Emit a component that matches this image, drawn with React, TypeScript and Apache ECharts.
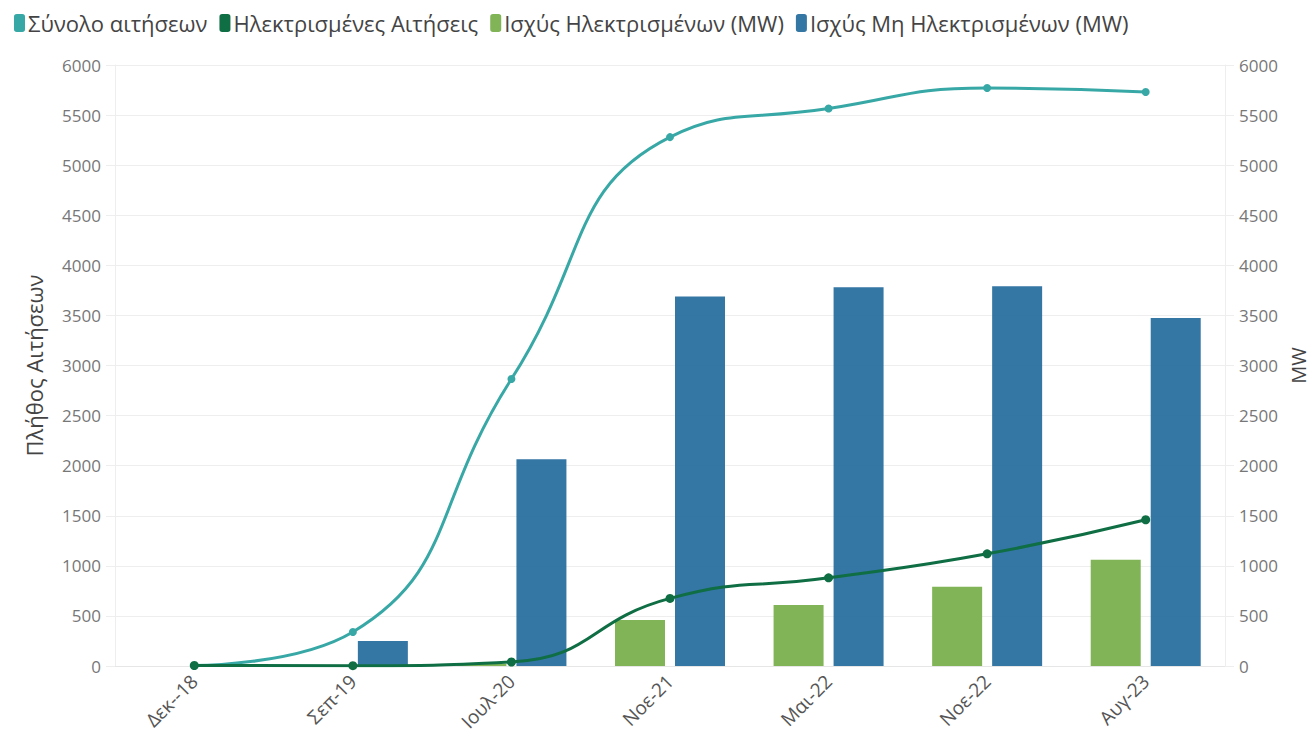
import React, { useEffect, useRef } from "react";
import * as echarts from "echarts";

const categories = ["Δεκ--18", "Σεπ-19", "Ιουλ-20", "Νοε-21", "Μαι-22", "Νοε-22", "Αυγ-23"];
const totalApplications = [5, 340, 2865, 5280, 5565, 5770, 5730];
const electrifiedApplications = [5, 3, 40, 675, 880, 1120, 1460];
const electrifiedMW = [0, 0, 20, 460, 610, 790, 1060];
const nonElectrifiedMW = [0, 250, 2065, 3690, 3780, 3790, 3475];
const yTicks = { min: 0, max: 6000, interval: 500 };

const FONT = "'Open Sans', 'Noto Sans', sans-serif";

export default function App() {
  const ref = useRef<HTMLDivElement>(null);
  useEffect(() => {
    if (!ref.current) return;
    const chart = echarts.init(ref.current, undefined, { renderer: "svg" });
    const axisLabel = {
      color: "#777",
      fontSize: 17,
      fontFamily: FONT,
      margin: 14,
      formatter: (v: number) => String(v),
    };
    chart.setOption({
      animation: false,
      textStyle: { fontFamily: FONT },
      legend: {
        left: 9,
        top: 7,
        itemWidth: 11,
        itemHeight: 18,
        itemGap: 12,
        icon: "roundRect",
        textStyle: { fontSize: 22, color: "#444", fontFamily: FONT, padding: [0, 0, 0, -2] },
        data: ["Σύνολο αιτήσεων", "Ηλεκτρισμένες Αιτήσεις", "Ισχύς Ηλεκτρισμένων (MW)", "Ισχύς Μη Ηλεκτρισμένων (MW)"],
      },
      grid: { left: 115, right: 86, top: 65, bottom: 74, containLabel: false, outerBoundsMode: "none" },
      xAxis: {
        type: "category",
        data: categories,
        axisLine: { lineStyle: { color: "#e6e6e6" } },
        axisTick: { alignWithLabel: true, lineStyle: { color: "#e6e6e6" }, length: 5 },
        axisLabel: { color: "#555", fontSize: 19, fontFamily: FONT, rotate: 45, margin: 12 },
      },
      yAxis: [
        {
          type: "value",
          ...yTicks,
          name: "Πλήθος Αιτήσεων",
          nameLocation: "middle",
          nameGap: 70,
          nameRotate: 90,
          nameTextStyle: { fontSize: 22, color: "#444", fontFamily: FONT },
          axisLabel,
          axisLine: { show: true, lineStyle: { color: "#eeeeee" } },
          axisTick: { show: true, lineStyle: { color: "#eeeeee" }, length: 9 },
          splitLine: { lineStyle: { color: "#eeeeee" } },
        },
        {
          type: "value",
          ...yTicks,
          name: "MW",
          nameLocation: "middle",
          nameGap: 60,
          nameRotate: 90,
          nameTextStyle: { fontSize: 20, color: "#444", fontFamily: FONT },
          axisLabel: { ...axisLabel, align: "left" },
          axisLine: { show: true, lineStyle: { color: "#eeeeee" } },
          axisTick: { show: true, lineStyle: { color: "#eeeeee" }, length: 9 },
          splitLine: { show: false },
        },
      ],
      series: [
        {
          name: "Ισχύς Ηλεκτρισμένων (MW)",
          type: "bar",
          yAxisIndex: 1,
          data: electrifiedMW,
          barWidth: 50,
          barGap: "20%",
          itemStyle: { color: "#79b04d", opacity: 0.95 },
          z: 1,
        },
        {
          name: "Ισχύς Μη Ηλεκτρισμένων (MW)",
          type: "bar",
          yAxisIndex: 1,
          data: nonElectrifiedMW,
          barWidth: 50,
          barGap: "20%",
          itemStyle: { color: "#236a9c", opacity: 0.92 },
          z: 1,
        },
        {
          name: "Σύνολο αιτήσεων",
          type: "line",
          yAxisIndex: 0,
          data: totalApplications,
          smooth: true,
          symbol: "circle",
          symbolSize: 8,
          lineStyle: { width: 3, color: "#38a8a6" },
          itemStyle: { color: "#38a8a6" },
          z: 3,
        },
        {
          name: "Ηλεκτρισμένες Αιτήσεις",
          type: "line",
          yAxisIndex: 0,
          data: electrifiedApplications,
          smooth: true,
          symbol: "circle",
          symbolSize: 9,
          lineStyle: { width: 3, color: "#0f6e44" },
          itemStyle: { color: "#0f6e44" },
          z: 4,
        },
      ],
    });
    return () => chart.dispose();
  }, []);
  return (
    <div
      ref={ref}
      style={{ position: "absolute", left: 0, top: 0, width: 1311, height: 740 }}
    />
  );
}
